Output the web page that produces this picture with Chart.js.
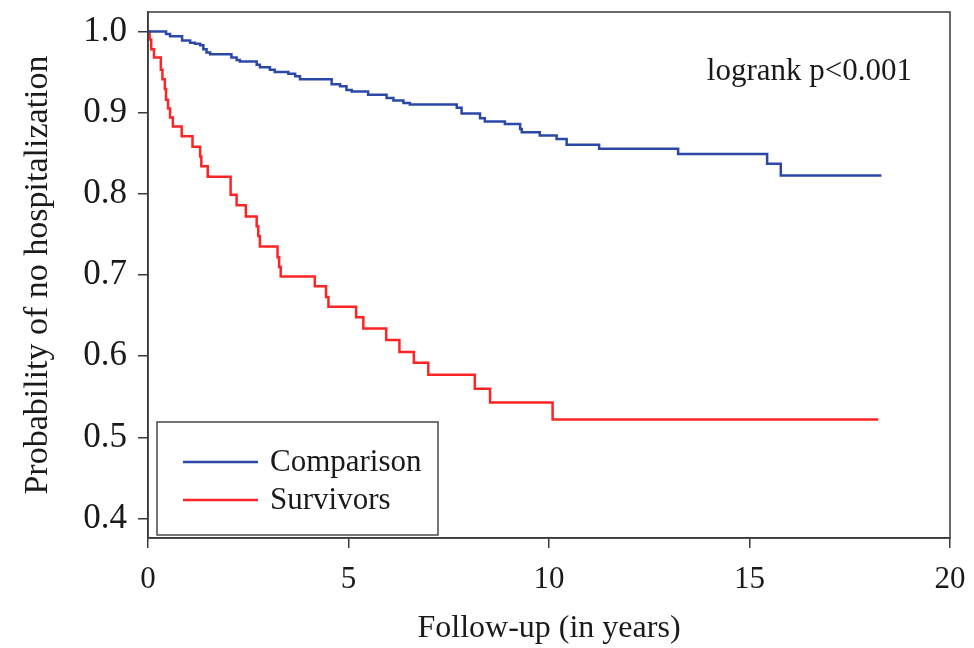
<!DOCTYPE html>
<html>
<head>
<meta charset="utf-8">
<script src="https://cdn.jsdelivr.net/npm/chart.js@4"></script>
<style>
    html, body { margin: 0; padding: 0; background: #fff; }
    #wrap { width: 974px; height: 648px; }
</style>
</head>
<body>
<div id="wrap"><canvas id="km"></canvas></div>
<script>
// Kaplan-Meier steps: time (years) where the curve drops, and the value after the drop
const COMPARISON_T = [0, 0.45, 0.55, 0.85, 1.05, 1.17, 1.30, 1.38, 1.46, 1.55, 2.08, 2.21, 2.29, 2.71, 2.79,
    3.04, 3.16, 3.50, 3.67, 3.79, 4.58, 4.79, 4.95, 5.08, 5.49, 5.95, 6.12, 6.37, 6.53, 7.70, 7.82,
    8.28, 8.40, 8.90, 9.28, 9.32, 9.77, 10.19, 10.44, 11.25, 13.22, 15.44, 15.78, 18.29];
const COMPARISON_S = [1.0, 0.997, 0.994, 0.989, 0.986, 0.985, 0.983, 0.978, 0.974, 0.972, 0.968, 0.965, 0.963, 0.959, 0.956,
    0.953, 0.950, 0.948, 0.945, 0.941, 0.935, 0.9325, 0.928, 0.926, 0.922, 0.918, 0.915, 0.912, 0.910, 0.906, 0.899,
    0.893, 0.889, 0.886, 0.880, 0.876, 0.872, 0.8675, 0.8605, 0.8556, 0.849, 0.837, 0.8226, 0.8226];

const SURVIVOR_T = [0, 0.04, 0.08, 0.15, 0.32, 0.36, 0.42, 0.45, 0.50, 0.55, 0.62, 0.84, 1.11, 1.30, 1.33, 1.49,
    2.06, 2.21, 2.44, 2.71, 2.75, 2.79, 3.23, 3.27, 3.31, 4.16, 4.44, 4.50, 5.19, 5.37, 5.94, 6.27,
    6.63, 6.99, 8.15, 8.53, 10.09, 18.21];
const SURVIVOR_S = [1.0, 0.99, 0.978, 0.968, 0.953, 0.941, 0.929, 0.916, 0.905, 0.894, 0.883, 0.871, 0.858, 0.846, 0.834, 0.821,
    0.799, 0.786, 0.772, 0.760, 0.748, 0.735, 0.722, 0.710, 0.698, 0.686, 0.673, 0.661, 0.648, 0.634, 0.620, 0.605,
    0.592, 0.577, 0.560, 0.543, 0.522, 0.522];

const X_TICKS = [0, 5, 10, 15, 20];
const Y_TICKS = [0.4, 0.5, 0.6, 0.7, 0.8, 0.9, 1.0];
const SERIES_NAMES = ["Comparison", "Survivors"];
const SERIES_COLORS = ["#2b48a8", "#ff2424"];
const ANNOTATION = "logrank p<0.001";

const FONT = "'Liberation Serif', 'Times New Roman', serif";
const INK = "#1a1a1a";
const FRAME = "#3a3a3a";

function toPoints(ts, ss) {
    return ts.map((t, i) => ({x: t, y: ss[i]}));
}

const framePlugin = {
    id: "frame",
    afterDraw(chart) {
        const {ctx, chartArea: a} = chart;
        ctx.save();
        ctx.strokeStyle = FRAME;
        ctx.lineWidth = 1.5;
        ctx.strokeRect(a.left, a.top, a.right - a.left, a.bottom - a.top);

        // legend box, bottom-left inside the plot
        const bx = a.left + 9, by = a.bottom - 116, bw = 281, bh = 113;
        ctx.strokeStyle = "#4a4a4a";
        ctx.strokeRect(bx, by, bw, bh);
        ctx.font = "31px " + FONT;
        ctx.fillStyle = INK;
        ctx.textBaseline = "middle";
        chart.data.datasets.forEach((ds, i) => {
            const ly = by + 40 + i * 38;
            ctx.strokeStyle = ds.borderColor;
            ctx.lineWidth = 2.5;
            ctx.beginPath();
            ctx.moveTo(bx + 26, ly);
            ctx.lineTo(bx + 101, ly);
            ctx.stroke();
            ctx.fillText(ds.label, bx + 113, ly + 1);
        });

        ctx.textAlign = "right";
        ctx.fillText(ANNOTATION, a.right - 38, a.top + 60);
        ctx.restore();
    }
};

const ctx = document.getElementById("km").getContext("2d");
new Chart(ctx, {
    type: "line",
    data: {
        datasets: [
            {
                label: SERIES_NAMES[0],
                data: toPoints(COMPARISON_T, COMPARISON_S),
                borderColor: SERIES_COLORS[0],
                borderWidth: 2.5,
                stepped: "before",
                pointRadius: 0,
                fill: false
            },
            {
                label: SERIES_NAMES[1],
                data: toPoints(SURVIVOR_T, SURVIVOR_S),
                borderColor: SERIES_COLORS[1],
                borderWidth: 2.5,
                stepped: "before",
                pointRadius: 0,
                fill: false
            }
        ]
    },
    options: {
        responsive: true,
        maintainAspectRatio: false,
        animation: false,
        layout: {padding: {top: 12, right: 24, bottom: 0, left: 0}},
        plugins: {
            legend: {display: false},
            tooltip: {enabled: false}
        },
        scales: {
            x: {
                type: "linear",
                min: 0,
                max: 20,
                afterBuildTicks: s => { s.ticks = X_TICKS.map(v => ({value: v})); },
                afterFit: s => { s.height = 110; s.paddingLeft = 0; s.paddingRight = 0; },
                grid: {drawOnChartArea: false, drawTicks: true, tickLength: 10, color: FRAME, lineWidth: 1.5},
                border: {display: true, color: FRAME, width: 1.5},
                ticks: {font: {family: FONT, size: 31}, color: INK, padding: 13, maxRotation: 0},
                title: {display: true, text: "Follow-up (in years)", font: {family: FONT, size: 32}, color: INK, padding: {top: 9, bottom: 0}}
            },
            y: {
                min: 0.376,
                max: 1.024,
                afterBuildTicks: s => { s.ticks = Y_TICKS.map(v => ({value: v})); },
                afterFit: s => { s.width = 148; s.paddingTop = 0; s.paddingBottom = 0; },
                grid: {drawOnChartArea: false, drawTicks: true, tickLength: 10, color: FRAME, lineWidth: 1.5},
                border: {display: true, color: FRAME, width: 1.5},
                ticks: {font: {family: FONT, size: 35}, color: INK, padding: 11, callback: v => v.toFixed(1)},
                title: {display: true, text: "Probability of no hospitalization", font: {family: FONT, size: 34}, color: INK, padding: {top: 18, bottom: 0}}
            }
        }
    },
    plugins: [framePlugin]
});
</script>
</body>
</html>
